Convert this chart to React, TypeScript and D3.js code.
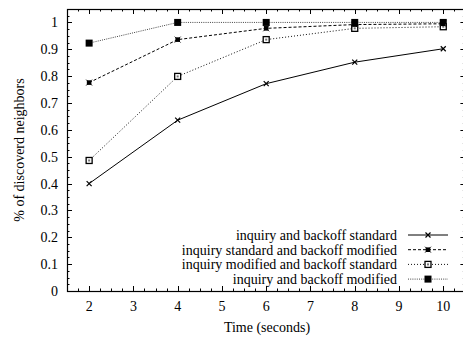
import React, { useEffect, useRef } from "react";
import * as d3 from "d3";

const times = [2, 4, 6, 8, 10];
const seriesNames = [
  "inquiry and backoff standard",
  "inquiry standard and backoff modified",
  "inquiry modified and backoff standard",
  "inquiry and backoff modified",
];
const s1 = [0.4, 0.636, 0.772, 0.852, 0.902];
const s2 = [0.776, 0.936, 0.978, 0.992, 0.995];
const s3 = [0.486, 0.799, 0.936, 0.978, 0.984];
const s4 = [0.923, 1.0, 1.0, 1.0, 1.0];
const xTicks = [2, 3, 4, 5, 6, 7, 8, 9, 10];
const yTicks = [0, 0.1, 0.2, 0.3, 0.4, 0.5, 0.6, 0.7, 0.8, 0.9, 1];

const W = 463, H = 337;
const L = 67, R = 465.4, T = 9, B = 291;
const FONT = "'Liberation Serif', 'Times New Roman', Times, 'Nimbus Roman', 'Nimbus Roman No9 L', 'DejaVu Serif', 'Noto Serif', FreeSerif, Tinos, serif";

export default function App() {
  const ref = useRef<SVGSVGElement>(null);
  useEffect(() => {
    const svg = d3.select(ref.current);
    svg.selectAll("*").remove();
    const x = d3.scaleLinear().domain([1.5, 10.5]).range([L, R]);
    const y = d3.scaleLinear().domain([0, 1.05]).range([B, T]);
    const g = svg.append("g").attr("font-family", FONT).attr("font-size", 14);

    const maj = 5, mnr = 2.5;
    const tk = g.append("g").attr("stroke", "#000").attr("stroke-width", 1);
    for (let v = 1.5; v <= 10.5001; v += 0.25) {
      const isMaj = Math.abs(v - Math.round(v)) < 1e-6;
      const len = isMaj ? maj : mnr;
      const px = Math.round(x(v)) + 0.5;
      tk.append("line").attr("x1", px).attr("x2", px).attr("y1", B).attr("y2", B - len);
      tk.append("line").attr("x1", px).attr("x2", px).attr("y1", T).attr("y2", T + len);
    }
    for (let i = 0; i <= 42; i++) {
      const v = i * 0.025;
      const isMaj = i % 4 === 0;
      const len = isMaj ? maj : mnr;
      const py = Math.round(y(v)) + 0.5;
      tk.append("line").attr("x1", L).attr("x2", L + len).attr("y1", py).attr("y2", py);
      tk.append("line").attr("x1", R).attr("x2", R - len).attr("y1", py).attr("y2", py);
    }
    g.append("rect").attr("x", L + 0.5).attr("y", T + 0.5).attr("width", R - L).attr("height", B - T)
      .attr("fill", "none").attr("stroke", "#000").attr("stroke-width", 1.2);

    g.append("g").selectAll("text").data(xTicks).join("text")
      .attr("x", (d) => x(d)).attr("y", 311).attr("text-anchor", "middle")
      .text((d) => String(d));
    g.append("g").selectAll("text").data(yTicks).join("text")
      .attr("x", 58).attr("y", (d) => y(d) + 5).attr("text-anchor", "end")
      .text((d) => String(Math.round(d * 10) / 10));

    g.append("text").attr("x", 267).attr("y", 332).attr("text-anchor", "middle")
      .text("Time (seconds)");
    g.append("text").attr("transform", `translate(24,${(T + B) / 2}) rotate(-90)`)
      .attr("text-anchor", "middle")
      .text("% of discoverd neighbors");

    const data = [s1, s2, s3, s4];
    const dashes = ["none", "3,2", "1,2", "1,1.2"];
    const colors = ["#000", "#000", "#111", "#444"];
    const line = d3.line<number>().x((_, i) => x(times[i])).y((d) => y(d));

    const drawMarker = (sel: any, k: number, cx: number, cy: number) => {
      if (k === 0) {
        const s = 2.5;
        sel.append("path").attr("d", `M${cx - s},${cy - s}L${cx + s},${cy + s}M${cx - s},${cy + s}L${cx + s},${cy - s}`)
          .attr("stroke", "#000").attr("stroke-width", 1.2).attr("fill", "none");
      } else if (k === 1) {
        sel.append("rect").attr("x", cx - 2.3).attr("y", cy - 2.3).attr("width", 4.6).attr("height", 4.6).attr("fill", "#000");
        const s = 3;
        sel.append("path").attr("d", `M${cx - s},${cy - s}L${cx + s},${cy + s}M${cx - s},${cy + s}L${cx + s},${cy - s}`)
          .attr("stroke", "#000").attr("stroke-width", 0.8);
      } else if (k === 2) {
        sel.append("rect").attr("x", cx - 3).attr("y", cy - 3).attr("width", 6).attr("height", 6)
          .attr("fill", "#fff").attr("stroke", "#000").attr("stroke-width", 1.3);
        sel.append("rect").attr("x", cx - 1).attr("y", cy - 1).attr("width", 2).attr("height", 2).attr("fill", "#777");
      } else {
        sel.append("rect").attr("x", cx - 3.5).attr("y", cy - 3.5).attr("width", 7).attr("height", 7).attr("fill", "#000");
      }
    };

    [3, 2, 1, 0].forEach((k) => {
      g.append("path").attr("d", line(data[k]) as string).attr("fill", "none")
        .attr("stroke", colors[k]).attr("stroke-width", 1).attr("stroke-dasharray", dashes[k]);
      data[k].forEach((v, i) => drawMarker(g, k, x(times[i]), y(v)));
    });

    const ly = [235, 249.7, 264.4, 279.1];
    seriesNames.forEach((name, k) => {
      g.append("text").attr("x", 397).attr("y", ly[k] + 5).attr("text-anchor", "end")
        .text(name);
      g.append("line").attr("x1", 408).attr("x2", 448).attr("y1", ly[k]).attr("y2", ly[k])
        .attr("stroke", colors[k]).attr("stroke-width", 1).attr("stroke-dasharray", dashes[k]);
      drawMarker(g, k, 428, ly[k]);
    });
  }, []);
  return (
    <svg ref={ref} width={W} height={H} style={{ position: "absolute", left: 0, top: 0, background: "#fff" }} />
  );
}
